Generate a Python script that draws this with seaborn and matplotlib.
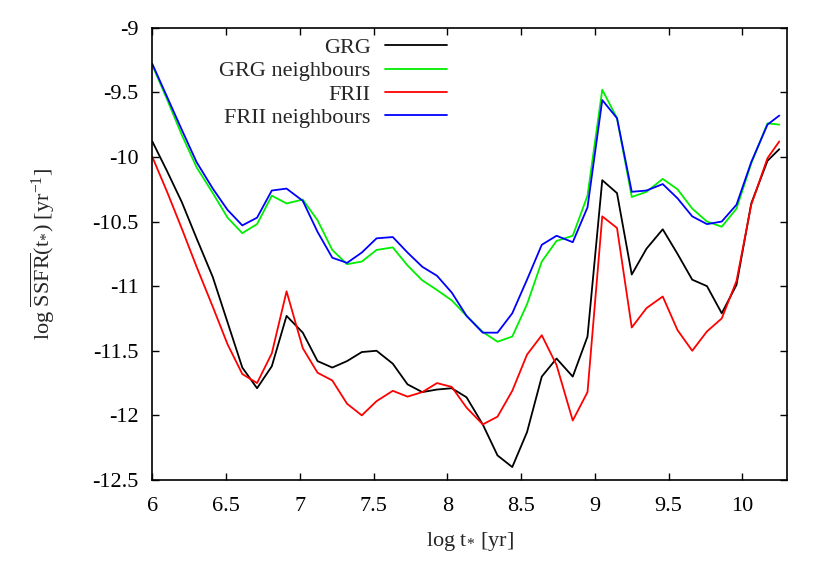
import pandas as pd
import matplotlib
matplotlib.use("Agg")
import matplotlib.pyplot as plt
import seaborn as sns
from matplotlib.ticker import FuncFormatter, MultipleLocator

# log age of the stellar population (bins)
log_age = [6.00, 6.10, 6.20, 6.30, 6.41, 6.51, 6.61, 6.71, 6.81, 6.91,
           7.02, 7.12, 7.22, 7.32, 7.42, 7.52, 7.63, 7.73, 7.83, 7.93,
           8.03, 8.13, 8.24, 8.34, 8.44, 8.54, 8.64, 8.74, 8.85, 8.95,
           9.05, 9.15, 9.25, 9.35, 9.46, 9.56, 9.66, 9.76, 9.86, 9.96,
           10.06, 10.17, 10.25]

grg = [-9.88, -10.11, -10.35, -10.63, -10.93, -11.28, -11.63, -11.79, -11.62, -11.23,
       -11.36, -11.58, -11.63, -11.58, -11.51, -11.50, -11.60, -11.76, -11.82, -11.80,
       -11.79, -11.86, -12.07, -12.31, -12.40, -12.13, -11.70, -11.56, -11.70, -11.39,
       -10.18, -10.28, -10.91, -10.71, -10.56, -10.75, -10.95, -11.00, -11.21, -10.99,
       -10.36, -10.03, -9.94]

grg_neighbours = [-9.29, -9.555, -9.83, -10.08, -10.28, -10.47, -10.59, -10.52, -10.30, -10.36,
                  -10.33, -10.49, -10.72, -10.83, -10.81, -10.72, -10.70, -10.84, -10.955, -11.03,
                  -11.11, -11.23, -11.355, -11.43, -11.39, -11.14, -10.81, -10.65, -10.61, -10.30,
                  -9.48, -9.70, -10.31, -10.27, -10.17, -10.25, -10.40, -10.50, -10.54, -10.40,
                  -10.05, -9.74, -9.75]

frii = [-10.00, -10.27, -10.555, -10.85, -11.16, -11.45, -11.68, -11.75, -11.52, -11.04,
        -11.48, -11.67, -11.73, -11.91, -12.00, -11.89, -11.81, -11.855, -11.82, -11.75,
        -11.78, -11.94, -12.07, -12.01, -11.81, -11.53, -11.38, -11.61, -12.04, -11.82,
        -10.46, -10.55, -11.32, -11.17, -11.08, -11.34, -11.50, -11.35, -11.25, -10.96,
        -10.37, -10.01, -9.88]

frii_neighbours = [-9.28, -9.535, -9.79, -10.04, -10.245, -10.41, -10.53, -10.47, -10.26, -10.245,
                   -10.34, -10.58, -10.78, -10.82, -10.74, -10.63, -10.62, -10.74, -10.85, -10.92,
                   -11.05, -11.23, -11.36, -11.36, -11.21, -10.95, -10.68, -10.61, -10.66, -10.39,
                   -9.56, -9.70, -10.27, -10.26, -10.21, -10.32, -10.46, -10.52, -10.50, -10.37,
                   -10.04, -9.75, -9.68]

series_names = ["GRG", "GRG neighbours", "FRII", "FRII neighbours"]
series_values = [grg, grg_neighbours, frii, frii_neighbours]
colors = {"GRG": "black", "GRG neighbours": "#00ee00",
          "FRII": "#ff0000", "FRII neighbours": "#0000ff"}

df = pd.concat([pd.DataFrame({"log_t": log_age, "ssfr": vals, "sample": name})
                for name, vals in zip(series_names, series_values)], ignore_index=True)

sns.set_theme(style="ticks")
plt.rcParams["font.family"] = ["Liberation Serif", "DejaVu Serif"]
plt.rcParams["mathtext.fontset"] = "custom"
plt.rcParams["mathtext.rm"] = "Liberation Serif"
plt.rcParams["mathtext.it"] = "Liberation Serif:italic"
plt.rcParams["axes.linewidth"] = 1.2

fig = plt.figure(figsize=(8.22, 5.76), dpi=100)
ax = fig.add_axes([0.1853, 0.1667, 0.7717, 0.7852])

sns.lineplot(data=df, x="log_t", y="ssfr", hue="sample", hue_order=series_names,
             palette=colors, sort=False, estimator=None, linewidth=1.3, ax=ax, legend=False)

ax.set_xlim(6, 10.3)
ax.set_ylim(-12.5, -9)
ax.xaxis.set_major_locator(MultipleLocator(0.5))
ax.yaxis.set_major_locator(MultipleLocator(0.5))
fmt = FuncFormatter(lambda v, p: ("%g" % v).replace("\u2212", "-"))
ax.xaxis.set_major_formatter(fmt)
ax.yaxis.set_major_formatter(fmt)
ax.tick_params(direction="in", top=True, right=True, length=5, width=1.0,
               labelsize=16, colors="black")
ax.tick_params(axis="x", pad=12)
ax.tick_params(axis="y", pad=10)
for s in ax.spines.values():
    s.set_visible(True)
    s.set_color("black")

ax.set_xlabel(r"log t$_{*}$ [yr]", fontsize=16)
ax.set_ylabel(r"log $\overline{\mathrm{SSFR}}$(t$_{*}$) [yr$^{-1}$]", fontsize=16)
ax.xaxis.set_label_coords(0.5, -0.11)
ax.yaxis.set_label_coords(-0.15, 0.5)

handles = ax.get_lines()[:4]
leg = ax.legend(handles, series_names, loc="upper right", bbox_to_anchor=(0.465, 0.978),
                frameon=False, markerfirst=False, fontsize=16, handlelength=2.8,
                handletextpad=0.65, labelspacing=0.12, borderpad=0, borderaxespad=0)

fig.savefig("out.png", dpi=100)
